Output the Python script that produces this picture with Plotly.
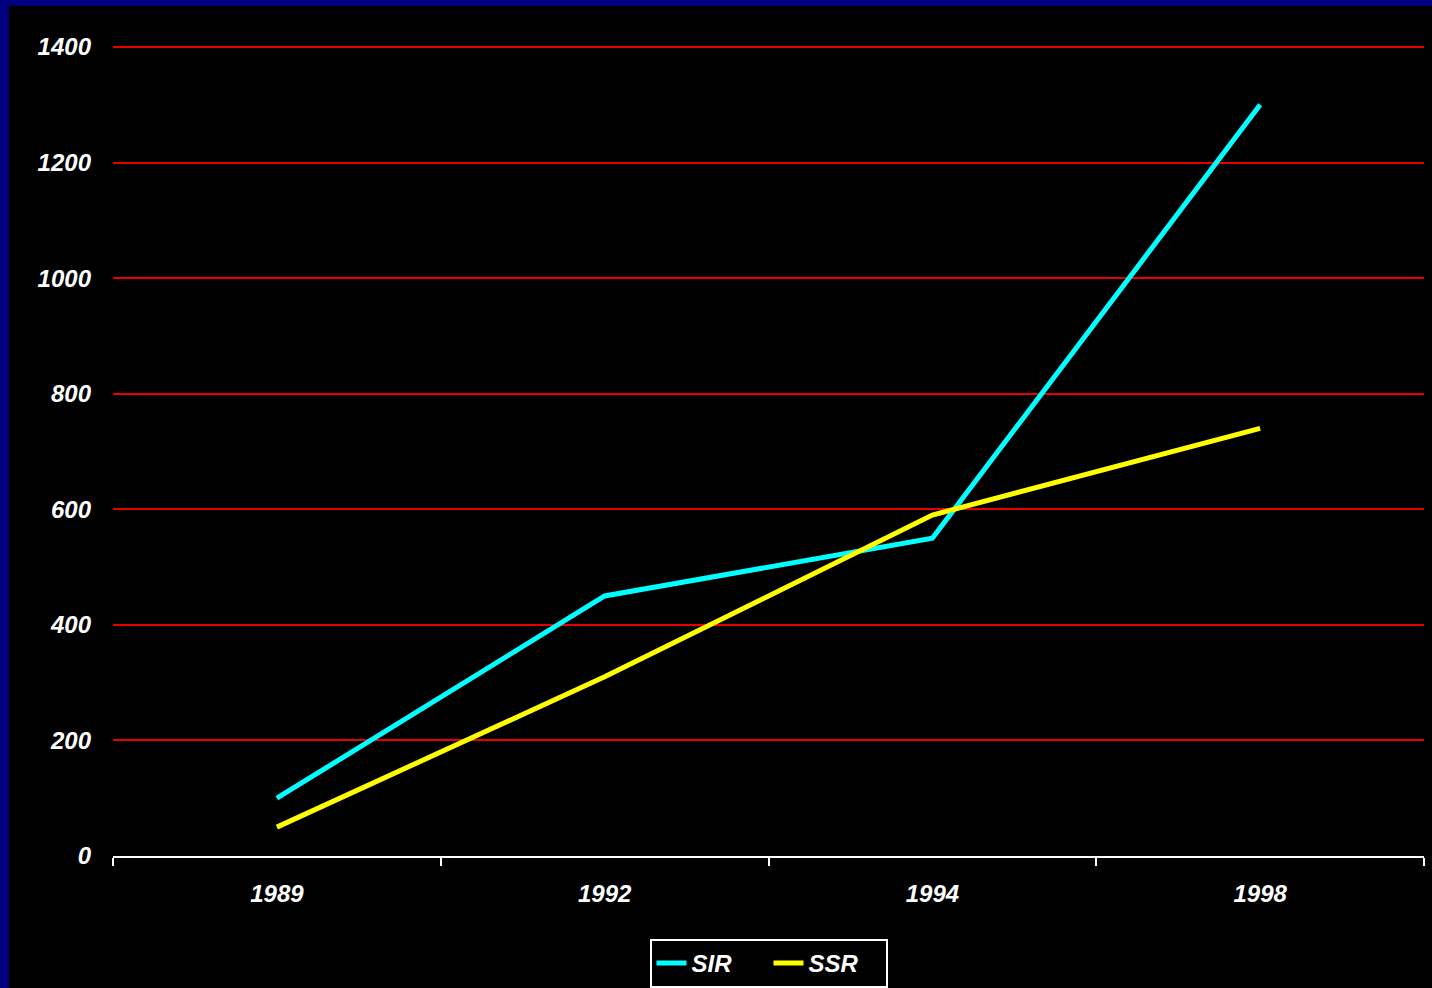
import plotly.graph_objects as go

years = ["1989", "1992", "1994", "1998"]
sir = [100, 450, 550, 1300]
ssr = [50, 310, 590, 740]
y_ticks = [0, 200, 400, 600, 800, 1000, 1200, 1400]

W, H = 1432, 988
ML, MR, MT, MB = 113, 8, 45, 132
PW, PH = W - ML - MR, H - MT - MB

# leave a couple of pixels above the top tick so its gridline is drawn
Y_TOP = y_ticks[-1] * PH / (PH - 2)

FAMILY = "Liberation Sans, Arial, sans-serif"
label_font = dict(family=FAMILY, size=24, color="white", weight="bold", style="italic")

fig = go.Figure()
fig.add_trace(go.Scatter(x=years, y=sir, name="SIR", mode="lines",
                         line=dict(color="#00FFFF", width=5)))
fig.add_trace(go.Scatter(x=years, y=ssr, name="SSR", mode="lines",
                         line=dict(color="#FFFF00", width=5)))

# navy frame along the left and top edges
navy = "#00007E"
fig.add_shape(type="rect", xref="paper", yref="paper", layer="above",
              x0=-ML / PW, x1=(9 - ML) / PW, y0=-MB / PH, y1=1 + MT / PH,
              fillcolor=navy, line_width=0)
fig.add_shape(type="rect", xref="paper", yref="paper", layer="above",
              x0=-ML / PW, x1=1 + MR / PW, y0=1 + (MT - 6) / PH, y1=1 + MT / PH,
              fillcolor=navy, line_width=0)

fig.update_layout(
    width=W, height=H,
    margin=dict(l=ML, r=MR, t=MT, b=MB, autoexpand=False),
    paper_bgcolor="black", plot_bgcolor="black",
    font=dict(family=FAMILY, color="white", size=24),
    showlegend=True,
    legend=dict(orientation="h", x=0.5, xanchor="center",
                yref="container", y=(H - 939) / H, yanchor="top",
                bgcolor="black", bordercolor="white", borderwidth=2,
                font=label_font, itemwidth=30, tracegroupgap=0,
                entrywidth=72, entrywidthmode="pixels"),
    xaxis=dict(type="category", range=[-0.5, 3.5], tickson="boundaries",
               ticks="outside", ticklen=8, tickwidth=2, tickcolor="white",
               showline=True, linecolor="white", linewidth=2,
               showgrid=False, zeroline=False, ticklabelstandoff=15,
               automargin=False, tickfont=label_font),
    yaxis=dict(range=[0, Y_TOP], tickvals=y_ticks, ticks="",
               showline=False, zeroline=False,
               showgrid=True, gridcolor="#E60000", gridwidth=2,
               ticklabelstandoff=21, automargin=False, tickfont=label_font),
)

fig.write_html("out.html")
